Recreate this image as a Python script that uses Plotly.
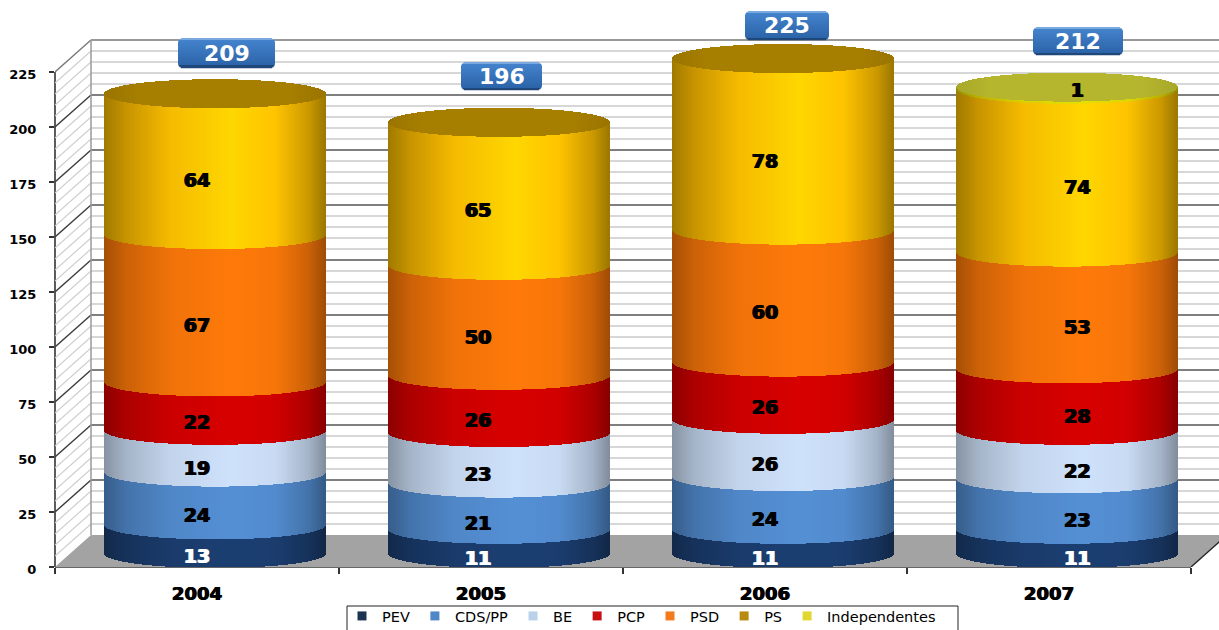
import numpy as np
import plotly.graph_objects as go

years = ["2004", "2005", "2006", "2007"]
series_names = ["PEV", "CDS/PP", "BE", "PCP", "PSD", "PS", "Independentes"]
PEV = [13, 11, 11, 11]
CDS = [24, 21, 24, 23]
BE = [19, 23, 26, 22]
PCP = [22, 26, 26, 28]
PSD = [67, 50, 60, 53]
PS = [64, 65, 78, 74]
IND = [0, 0, 0, 1]
totals = [209, 196, 225, 212]
series_values = [PEV, CDS, BE, PCP, PSD, PS, IND]
series_colors = ["#1c3f72", "#5590d5", "#cfe2fb", "#d80000", "#ff7a0a", "#ffd500", "#e8de00"]
legend_colors = ["#1c3352", "#4f86c6", "#b9d2ea", "#c80f14", "#f47a1c", "#b98a10", "#e0d830"]
cap_colors = ["#a67e00", "#a67e00", "#a67e00", "#b5b52e"]

# pixel geometry of the picture (front plane of the chart)
PX_X0, PX_Y0, PX_PER_CAT, PX_PER_UNIT = 55.0, 567.0, 284.0, 2.2
W, H = 1219, 630
def X(px): return (px - PX_X0) / PX_PER_CAT
def Y(py): return (PX_Y0 - py) / PX_PER_UNIT

DEPTH_X, DEPTH_Y = 36 / PX_PER_CAT, 32 / PX_PER_UNIT
CYL_DX, CYL_DY = 18 / PX_PER_CAT, 13.5 / PX_PER_UNIT
CYL_HALF = 110.5 / PX_PER_CAT
ELL = 14.5 / PX_PER_UNIT
N = 220
t = (np.arange(N) + 0.5) / N * 2 - 1
curve = np.sqrt(1 - t ** 2)
strip_w = 2 * CYL_HALF / N * 1.02

shade_t = [-1, -0.8, -0.4, 0.15, 0.55, 0.85, 1]
shade_f = [0.65, 0.8, 0.94, 1.0, 0.97, 0.8, 0.63]
shade = np.interp(t, shade_t, shade_f)
cap_shade = np.interp(t, [-1, -0.7, 0, 0.7, 1], [0.93, 1, 1, 1, 0.93])
gold_r = [160, 200, 245, 255, 254, 204, 156]
gold_g = [122, 148, 187, 215, 196, 153, 120]
gold = ["rgb(%d,%d,0)" % (r, g) for r, g in zip(np.interp(t, shade_t, gold_r), np.interp(t, shade_t, gold_g))]

def rgb(hexc, f):
    r, g, b = [int(hexc[i:i + 2], 16) for i in (1, 3, 5)]
    return f"rgb({min(255,int(r*f))},{min(255,int(g*f))},{min(255,int(b*f))})"

fig = go.Figure()
shapes = []

def line(x0, y0, x1, y1, color, width, xref="x", yref="y", layer="below"):
    shapes.append(dict(type="line", x0=x0, y0=y0, x1=x1, y1=y1, xref=xref, yref=yref,
                       line=dict(color=color, width=width), layer=layer))

# Walls: minor lines every 5, major every 25
for v in range(5, 226, 5):
    if v % 25:
        line(0, v, DEPTH_X, v + DEPTH_Y, "#cfcfcf", 1.2)
        line(DEPTH_X, v + DEPTH_Y, 4.2, v + DEPTH_Y, "#cacaca", 1.3)
for v in range(25, 226, 25):
    c = "#3c3c3c" if v < 225 else "#777777"
    line(0, v, DEPTH_X, v + DEPTH_Y, c, 1.4)
    line(DEPTH_X, v + DEPTH_Y, 4.2, v + DEPTH_Y, "#555555" if v < 225 else "#777777", 1.5)
line(DEPTH_X, DEPTH_Y, DEPTH_X, 225 + DEPTH_Y, "#9a9a9a", 1.5)
# Floor
shapes.append(dict(type="path", layer="below", line=dict(width=0), fillcolor="#a3a3a3",
                   path=f"M0,0 L{DEPTH_X},{DEPTH_Y} L4.2,{DEPTH_Y} L{4+DEPTH_X},{DEPTH_Y} L4,0 Z"))
# Axis lines and edge
line(0, 0, 4, 0, "#333333", 1.6, xref="x", yref="paper")
line(4, 0, 4 + DEPTH_X, DEPTH_Y, "#222222", 1.4)
line(0, 0, 0, 225, "#333333", 1.6, xref="paper", yref="y")

# Legend frame: runs off the bottom edge of the picture, as in the source image
shapes.append(dict(type="rect", xref="paper", yref="paper", layer="below",
                   x0=(347 - PX_X0) / (W - PX_X0), x1=(958 - PX_X0) / (W - PX_X0),
                   y0=(PX_Y0 - 634) / PX_Y0, y1=(PX_Y0 - 606) / PX_Y0,
                   line=dict(color="#222222", width=1), fillcolor="#ffffff"))

# Cylinder segments, drawn strip by strip through the bar scale
cum = np.zeros(4)
for name, vals, col in zip(series_names, series_values, series_colors):
    xs, bases, hs, cols = [], [], [], []
    for i, v in enumerate(vals):
        if v == 0:
            continue
        xs.extend(i + 0.5 + CYL_DX + t * CYL_HALF)
        bases.extend(cum[i] + CYL_DY - ELL * curve)
        hs.extend([v] * N)
        cols.extend(gold if name == "PS" else [rgb(col, f) for f in shade])
    fig.add_trace(go.Bar(x=xs, y=hs, base=bases, width=strip_w, marker=dict(color=cols, line=dict(width=0)),
                         cliponaxis=False, showlegend=False, hoverinfo="skip", name=name))
    cum += np.array(vals)

# Top caps
xs, bases, hs, cols = [], [], [], []
for i, tot in enumerate(totals):
    xs.extend(i + 0.5 + CYL_DX + t * CYL_HALF)
    bases.extend(tot + CYL_DY - ELL * curve)
    hs.extend(2 * ELL * curve)
    cols.extend(rgb(cap_colors[i], f) for f in cap_shade)
fig.add_trace(go.Bar(x=xs, y=hs, base=bases, width=strip_w, marker=dict(color=cols, line=dict(width=0)),
                     cliponaxis=False, showlegend=False, hoverinfo="skip"))

# Value labels
label_x = [0.5, 1.49, 2.5, 3.6]
lx, ly, lt, lc = [], [], [], []
cum = np.zeros(4)
for s, vals in enumerate(series_values):
    for i, v in enumerate(vals):
        if v == 0:
            continue
        lx.append(label_x[i])
        mid = cum[i] + v / 2
        ly.append(mid - 2.3 if s < 6 else mid + 4.2)
        lt.append(str(v))
        lc.append("#ffffff" if s == 0 else "#000000")
    cum += np.array(vals)
# labels are thickened with a hairline shadow, the picture's digits are very heavy
for colour, shadow in (("#000000", "0.8px 0 0 #000,-0.8px 0 0 #000"), ("#ffffff", "0.8px 0 0 #fff,-0.8px 0 0 #fff")):
    idx = [k for k, c in enumerate(lc) if c == colour]
    fig.add_trace(go.Scatter(x=[lx[k] for k in idx], y=[ly[k] for k in idx], mode="text",
                             text=[lt[k] for k in idx], textposition="middle center",
                             textfont=dict(family="DejaVu Sans", size=19, color=colour, weight="bold", shadow=shadow),
                             showlegend=False, hoverinfo="skip", cliponaxis=False))

# Legend entries
for name, c in zip(series_names, legend_colors):
    fig.add_trace(go.Scatter(x=[None], y=[None], mode="markers", name=name,
                             marker=dict(symbol="square", size=9, color=c)))

# Blue total boxes
box_cx = [226.5, 501.5, 787, 1078]
box_cy = [53, 76, 25.5, 41]
box_w = [97, 81, 84, 90]
box_h = [30, 28, 29, 28]
annotations = []
def mix(a, b, k):
    a = [int(a[i:i + 2], 16) for i in (1, 3, 5)]
    b = [int(b[i:i + 2], 16) for i in (1, 3, 5)]
    return "rgb(%d,%d,%d)" % tuple(int(p + (q - p) * k) for p, q in zip(a, b))
for cx, cy, w, h, tot in zip(box_cx, box_cy, box_w, box_h, totals):
    x0, x1, y0, y1 = round(cx - w / 2), round(cx + w / 2), round(cy - h / 2), round(cy + h / 2)
    r = 5
    rows = int(y1 - y0)
    for j in range(rows):
        yy = y0 + j
        dist = min(yy + 0.5 - y0, y1 - yy - 0.5)
        inset = r - np.sqrt(max(r ** 2 - (r - dist) ** 2, 0)) if dist < r else 0
        k = j / (rows - 1)
        if j < 2:
            c = "#79a9de"
        elif k > 0.93:
            c = "#20477a"
        else:
            c = mix("#4585cf", "#2b62a6", k)
        shapes.append(dict(type="rect", layer="above", line=dict(width=0), fillcolor=c,
                           x0=X(x0 + inset), x1=X(x1 - inset), y0=Y(yy + 1.3), y1=Y(yy)))
    annotations.append(dict(x=X(cx), y=Y(cy), text=str(tot), showarrow=False, xref="x", yref="y",
                            font=dict(family="DejaVu Sans", size=22, color="#ffffff", weight="bold")))

fig.update_layout(
    width=W, height=H, autosize=False,
    margin=dict(l=55, r=0, t=0, b=63, pad=0, autoexpand=False),
    paper_bgcolor="white", plot_bgcolor="white",
    barmode="overlay", bargap=0, hovermode=False,
    font=dict(family="DejaVu Sans", color="#000000"),
    shapes=shapes, annotations=annotations,
    xaxis=dict(range=[0, X(W)], tickmode="array", tickvals=[0.5, 1.5, 2.5, 3.5], ticktext=years,
               showgrid=False, zeroline=False, showline=False, ticks="", ticklabelstandoff=14,
               tickfont=dict(family="DejaVu Sans", size=18, weight="bold", color="#000000",
                             shadow="0.6px 0 0 #000,-0.6px 0 0 #000"),
               minor=dict(tickmode="array", tickvals=[0, 1, 2, 3, 4], ticks="outside", ticklen=6,
                          tickcolor="#333333", tickwidth=1.5, showgrid=False)),
    yaxis=dict(range=[0, Y(0)], tickmode="array", tickvals=list(range(0, 226, 25)),
               showgrid=False, zeroline=False, showline=False, ticks="outside", ticklen=5,
               tickcolor="#333333", tickwidth=1.5, ticklabelstandoff=10, ticklabelshift=2,
               tickfont=dict(family="DejaVu Sans", size=13, weight="bold", color="#000000")),
    legend=dict(orientation="h", xref="container", yref="container", x=342 / W, y=1 - 600 / H,
                xanchor="left", yanchor="top", borderwidth=0, bgcolor="rgba(0,0,0,0)",
                font=dict(family="DejaVu Sans", size=14.5, color="#000000"), itemclick=False, itemdoubleclick=False),
)
fig.write_html("out.html", config=dict(displayModeBar=False),
               post_script="document.body.style.margin='0';document.documentElement.style.overflow='hidden';")
